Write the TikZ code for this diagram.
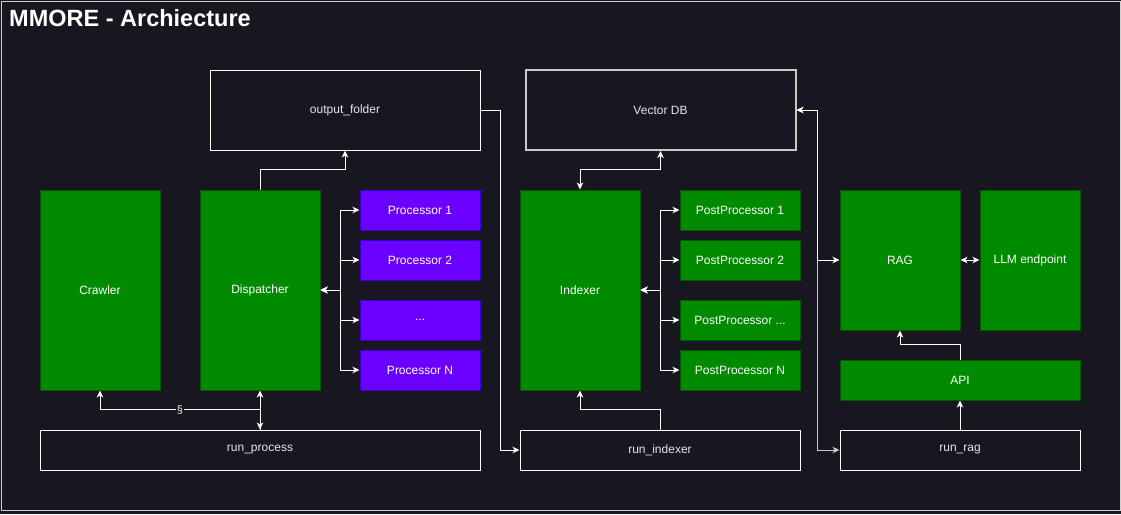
\documentclass[tikz,border=0pt]{standalone}
\usepackage{fontspec}
\setmainfont{Liberation Sans}
\usetikzlibrary{arrows.meta}
\definecolor{bg}{HTML}{18161F}
\definecolor{gfill}{HTML}{008A00}
\definecolor{gline}{HTML}{005700}
\definecolor{pfill}{HTML}{6A00FF}
\definecolor{pline}{HTML}{3700CC}
\definecolor{lbl}{HTML}{E6E6E6}
\definecolor{frameline}{HTML}{D0D0D0}
\definecolor{dbline}{HTML}{C8C8C8}
\tikzset{
  basebox/.style={inner sep=0pt, line width=1pt, font=\fontsize{12}{14}\selectfont},
  gbox/.style={basebox, draw=gline, fill=gfill, text=white},
  pbox/.style={basebox, draw=pline, fill=pfill, text=white},
  dbox/.style={basebox, draw=white, fill=bg, text=lbl},
  conn/.style={draw=white, line width=1pt, -{Stealth[length=7pt,width=6.5pt,inset=2pt]}},
  bconn/.style={draw=white, line width=1pt, {Stealth[length=7pt,width=6.5pt,inset=2pt]}-{Stealth[length=7pt,width=6.5pt,inset=2pt]}},
}
\begin{document}
\begin{tikzpicture}[x=1pt,y=-1pt]
\fill[bg] (0,0) rectangle (1121,514);
\useasboundingbox (0,0) rectangle (1121,514);
\draw[frameline, line width=1pt] (1,1) rectangle (1120,510.5);
\node[anchor=base west, inner sep=0pt, text=white, font=\fontsize{23.5}{27}\selectfont\bfseries] (title) at (9,27) {MMORE - Archiecture};

% top boxes
\node[dbox, minimum width=270, minimum height=80] (out) at (345,110) {output\_folder};
\node[dbox, draw=dbline, line width=2pt, minimum width=270, minimum height=80] (vdb) at (660.5,110) {Vector DB};

% main green boxes
\node[gbox, minimum width=120, minimum height=200] (crawler) at (100,290) {Crawler};
\node[gbox, minimum width=120, minimum height=200] (disp) at (260,290) {Dispatcher};
\node[gbox, minimum width=120, minimum height=200] (idx) at (580,290) {Indexer};

% processors
\node[pbox, minimum width=120, minimum height=40] (p1) at (420,210) {Processor 1};
\node[pbox, minimum width=120, minimum height=40] (p2) at (420,260) {Processor 2};
\node[pbox, minimum width=120, minimum height=40] (p3) at (420,320) {...};
\node[pbox, minimum width=120, minimum height=40] (pn) at (420,370) {Processor N};

% postprocessors
\node[gbox, minimum width=120, minimum height=40] (q1) at (740,210) {PostProcessor 1};
\node[gbox, minimum width=120, minimum height=40] (q2) at (740,260) {PostProcessor 2};
\node[gbox, minimum width=120, minimum height=40] (q3) at (740,320) {PostProcessor ...};
\node[gbox, minimum width=120, minimum height=40] (qn) at (740,370) {PostProcessor N};

% RAG side
\node[gbox, minimum width=120, minimum height=140] (rag) at (900,260) {RAG};
\node[gbox, minimum width=100, minimum height=140] (llm) at (1030,260) {LLM endpoint};
\node[gbox, minimum width=240, minimum height=40] (api) at (960,380) {API};

% run boxes
\node[dbox, minimum width=440, minimum height=40] (rp) at (260,450) {run\_process};
\node[dbox, minimum width=280, minimum height=40] (ridx) at (660,450) {run\_indexer};
\node[dbox, minimum width=240, minimum height=40] (rrag) at (960,450) {run\_rag};

% connectors
\draw[conn] (disp.north) -- ++(0,-20) -| (out.south);
\draw[conn] (out.east) -- ++(20,0) |- (ridx.west);
\foreach \p in {p1,p2,p3,pn} \draw[bconn] (disp.east) -- ++(20,0) |- (\p.west);
\draw[conn] (rp.north) -- ++(0,-20) -| node[pos=0.25, fill=bg, inner sep=0.5pt, text=lbl, font=\fontsize{11}{13}\selectfont] {§} (crawler.south);
\draw[bconn] (rp.north) -- (disp.south);

\draw[bconn] (idx.north) -- ++(0,-20) -| (vdb.south);
\foreach \q in {q1,q2,q3,qn} \draw[bconn] (idx.east) -- ++(20,0) |- (\q.west);
\draw[conn] (ridx.north) -- ++(0,-20) -| (idx.south);

\draw[bconn, draw=dbline] (vdb.east) -- ++(21,0) |- (rrag.west);
\draw[bconn] (vdb.east) -- ++(21,0) |- (rag.west);
\draw[bconn] (rag.east) -- (llm.west);
\draw[conn] (api.north) -- ++(0,-15) -| (rag.south);
\draw[conn] (rrag.north) -- (api.south);
\end{tikzpicture}
\end{document}
